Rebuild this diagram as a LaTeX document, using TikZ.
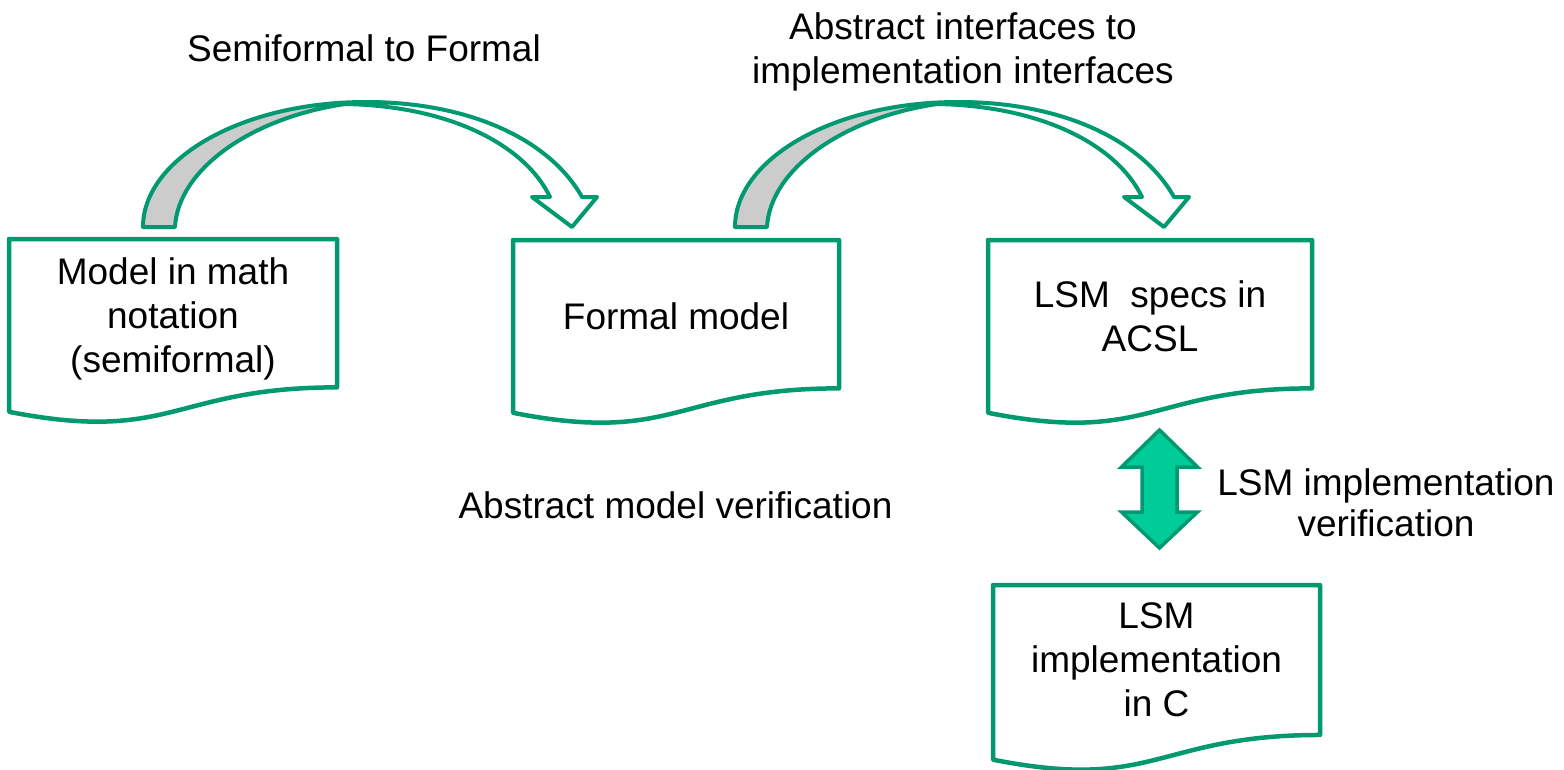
\documentclass[tikz,border=0pt]{standalone}
\usepackage{fontspec}
\setmainfont{Liberation Sans}

\definecolor{edgegreen}{RGB}{0,153,112}
\definecolor{boltgreen}{RGB}{0,204,153}
\definecolor{backgrey}{RGB}{204,204,204}

\tikzset{
  doc/.style={draw=edgegreen, line width=4.5pt, line join=round, fill=white},
  lbl/.style={font=\fontsize{37}{44}\selectfont, align=center, inner sep=0pt, text=black},
  bendline/.style={draw=edgegreen, line width=4pt, line join=round},
  bolt/.style={draw=edgegreen, fill=boltgreen, line width=3.5pt, line join=miter},
  % ribbon arrow curving over from its base (origin = outer foot of the ribbon)
  bendarrow/.pic={
    \path[fill=white] (0,0) .. controls (0,-67) and (97,-125) .. (223,-125)
      .. controls (327,-125) and (407,-87) .. (439,-30)
      -- (454,-30) -- (429,0) -- (389,-30) -- (407,-30)
      .. controls (382,-82) and (307,-121) .. (202,-123)
      .. controls (107,-109) and (35,-57) .. (32,0) -- cycle;
    % back face of the ribbon
    \path[fill=backgrey] (0,0) .. controls (0,-67) and (97,-125) .. (223,-125)
      -- (202,-123) .. controls (107,-109) and (35,-57) .. (32,0) -- cycle;
    \path[bendline] (0,0) .. controls (0,-67) and (97,-125) .. (223,-125)
      .. controls (327,-125) and (407,-87) .. (439,-30)
      -- (454,-30) -- (429,0) -- (389,-30) -- (407,-30)
      .. controls (382,-82) and (307,-121) .. (202,-123)
      .. controls (107,-109) and (35,-57) .. (32,0) -- cycle;
  }
}

% document symbol with a wavy lower edge: left, top, width, height
\newcommand{\docshape}[4]{%
  \draw[doc] (#1,#2) -- ({#1+#3},#2) -- ({#1+#3},{#2+0.802*#4})
    .. controls ({#1+0.5*#3},{#2+0.802*#4}) and ({#1+0.5*#3},{#2+1.1075*#4})
    .. (#1,{#2+0.934*#4}) -- cycle;}

\begin{document}
\begin{tikzpicture}[x=1pt,y=-1pt]
  \useasboundingbox[fill=white] (0,0) rectangle (1564,769);

  % documents
  \docshape{9}{239}{328}{185}
  \docshape{513}{240}{326}{185}
  \docshape{988}{240}{324}{185}
  \docshape{993}{585}{327}{187}

  \node[lbl] (model)  at (173,319)    {Model in math\\notation\\(semiformal)};
  \node[lbl] (formal) at (676,316)    {Formal model};
  \node[lbl] (specs)  at (1150,316)   {LSM\ \ specs in\\ACSL};
  \node[lbl] (impl)   at (1156.5,660) {LSM\\implementation\\in C};

  % transformation arrows
  \pic (semitoformal) at (143,227) {bendarrow};
  \pic (abstoimpl)    at (735,227) {bendarrow};

  % two-way verification arrow
  \draw[bolt] (1159.5,430) -- (1197.5,467) -- (1177,467) -- (1177,512)
    -- (1197.5,512) -- (1159.5,548) -- (1121.5,512) -- (1142,512)
    -- (1142,467) -- (1121.5,467) -- cycle;

  % captions
  \node[lbl] (capsemi)  at (364,48.3)   {Semiformal to Formal};
  \node[lbl] (capabs)   at (963,52)     {Abstract interfaces to\\implementation interfaces};
  \node[lbl] (capmodel) at (675.5,505)  {Abstract model verification};
  \node[lbl, font=\fontsize{37}{41}\selectfont] (capimpl) at (1386,502.5)
    {LSM implementation\\verification};
\end{tikzpicture}
\end{document}
